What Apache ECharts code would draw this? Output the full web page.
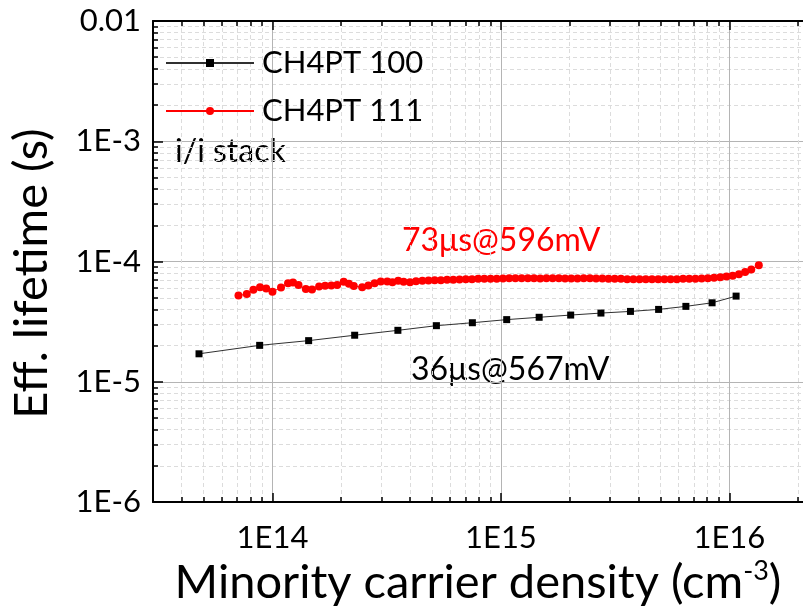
<!DOCTYPE html>
<html>
<head>
<meta charset="utf-8">
<script src="https://cdn.jsdelivr.net/npm/echarts@6/dist/echarts.min.js"></script>
<style>
  html, body { margin: 0; padding: 0; background: #fff; }
  #chart { width: 803px; height: 611px; }
</style>
</head>
<body>
<div id="chart"></div>
<script>
// CH4PT 100 (black squares)
var density100 = [4.77e13, 8.79e13, 1.44e14, 2.29e14, 3.54e14, 5.22e14, 7.50e14, 1.06e15,
  1.47e15, 2.02e15, 2.74e15, 3.69e15, 4.90e15, 6.45e15, 8.40e15, 1.07e16];
var lifetime100 = [1.71e-5, 2.01e-5, 2.20e-5, 2.44e-5, 2.68e-5, 2.93e-5, 3.10e-5, 3.29e-5,
  3.44e-5, 3.59e-5, 3.73e-5, 3.85e-5, 4.00e-5, 4.24e-5, 4.54e-5, 5.16e-5];

// CH4PT 111 (red circles)
var density111 = [7.10e13, 7.72e13, 8.25e13, 8.82e13, 9.39e13, 1.00e14, 1.09e14, 1.17e14, 1.23e14, 1.30e14,
  1.40e14, 1.49e14, 1.60e14, 1.70e14, 1.81e14, 1.92e14, 2.05e14, 2.16e14, 2.27e14, 2.47e14,
  2.63e14, 2.80e14, 2.98e14, 3.18e14, 3.35e14, 3.55e14, 3.75e14, 4.00e14, 4.25e14, 4.53e14,
  4.82e14, 5.13e14, 5.46e14, 5.81e14, 6.19e14, 6.59e14, 7.02e14, 7.47e14, 7.95e14, 8.46e14,
  9.01e14, 9.59e14, 1.021e15, 1.087e15, 1.157e15, 1.232e15, 1.312e15, 1.396e15, 1.486e15, 1.582e15,
  1.684e15, 1.793e15, 1.909e15, 2.032e15, 2.163e15, 2.303e15, 2.452e15, 2.610e15, 2.779e15, 2.958e15,
  3.149e15, 3.353e15, 3.569e15, 3.800e15, 4.045e15, 4.306e15, 4.584e15, 4.880e15, 5.195e15, 5.531e15,
  5.888e15, 6.268e15, 6.673e15, 7.103e15, 7.562e15, 8.050e15, 8.570e15, 9.123e15, 9.712e15, 1.034e16,
  1.101e16, 1.172e16, 1.247e16, 1.345e16];
var lifetime111 = [5.22e-5, 5.36e-5, 5.82e-5, 6.12e-5, 5.97e-5, 5.61e-5, 6.09e-5, 6.61e-5, 6.70e-5, 6.37e-5,
  5.90e-5, 5.86e-5, 6.21e-5, 6.28e-5, 6.32e-5, 6.37e-5, 6.78e-5, 6.53e-5, 6.25e-5, 6.12e-5,
  6.32e-5, 6.61e-5, 6.83e-5, 6.83e-5, 6.74e-5, 6.92e-5, 6.78e-5, 6.74e-5, 6.87e-5, 6.92e-5,
  6.96e-5, 7.00e-5, 7.00e-5, 7.05e-5, 7.05e-5, 7.09e-5, 7.14e-5, 7.14e-5, 7.18e-5, 7.18e-5,
  7.18e-5, 7.18e-5, 7.23e-5, 7.27e-5, 7.27e-5, 7.27e-5, 7.27e-5, 7.27e-5, 7.23e-5, 7.27e-5,
  7.27e-5, 7.27e-5, 7.23e-5, 7.23e-5, 7.23e-5, 7.27e-5, 7.27e-5, 7.23e-5, 7.23e-5, 7.18e-5,
  7.18e-5, 7.18e-5, 7.14e-5, 7.14e-5, 7.14e-5, 7.14e-5, 7.14e-5, 7.14e-5, 7.14e-5, 7.14e-5,
  7.14e-5, 7.18e-5, 7.18e-5, 7.18e-5, 7.23e-5, 7.27e-5, 7.32e-5, 7.41e-5, 7.51e-5, 7.62e-5,
  7.85e-5, 8.20e-5, 8.60e-5, 9.30e-5];

// axis ticks
var xMajor = [1e14, 1e15, 1e16];
var yMajor = [1e-6, 1e-5, 1e-4, 1e-3, 1e-2];
var xMinor = [4e13, 5e13, 6e13, 7e13, 8e13, 9e13,
  2e14, 3e14, 4e14, 5e14, 6e14, 7e14, 8e14, 9e14,
  2e15, 3e15, 4e15, 5e15, 6e15, 7e15, 8e15, 9e15, 2e16];
var yMinor = [2e-6, 3e-6, 4e-6, 5e-6, 6e-6, 7e-6, 8e-6, 9e-6,
  2e-5, 3e-5, 4e-5, 5e-5, 6e-5, 7e-5, 8e-5, 9e-5,
  2e-4, 3e-4, 4e-4, 5e-4, 6e-4, 7e-4, 8e-4, 9e-4,
  2e-3, 3e-3, 4e-3, 5e-3, 6e-3, 7e-3, 8e-3, 9e-3];

var FONT = 'Lato';
var X_MIN = 3e13, X_MAX = 2.1e16, Y_MIN = 1e-6, Y_MAX = 1e-2;

function pairs(xs, ys) {
  return xs.map(function (x, i) { return [x, ys[i]]; });
}
function expLabel(v) {
  if (Math.abs(v - 0.01) < 1e-9) return '0.01';
  return '1E' + Math.round(Math.log10(v));
}

function xAx(pos, major, show) {
  return {
    type: 'log', logBase: 10, min: X_MIN, max: X_MAX, position: pos,
    axisLine: { show: show, lineStyle: { color: '#000', width: 2 } },
    axisTick: { show: true, inside: true, length: major ? 9 : 5,
      customValues: major ? xMajor : xMinor, lineStyle: { color: '#000', width: 1.5 } },
    axisLabel: { show: false },
    splitLine: { show: pos === 'bottom',
      lineStyle: major ? { color: '#b4b4b4', width: 1 } : { color: '#dcdcdc', width: 1, type: [4, 3] } },
    minorTick: { show: false }, minorSplitLine: { show: false }
  };
}
function yAx(major) {
  return {
    type: 'log', logBase: 10, min: Y_MIN, max: Y_MAX, position: 'left',
    axisLine: { show: major, lineStyle: { color: '#000', width: 2 } },
    axisTick: { show: true, inside: true, length: major ? 10 : 5,
      customValues: major ? yMajor : yMinor, lineStyle: { color: '#000', width: 1.5 } },
    axisLabel: { show: false },
    splitLine: { show: true,
      lineStyle: major ? { color: '#b4b4b4', width: 1 } : { color: '#dcdcdc', width: 1, type: [4, 3] } }
  };
}

var xAxes = [xAx('bottom', true, true), xAx('bottom', false, false), xAx('top', true, true), xAx('top', false, false)];
xAxes[0].axisLabel = {
  show: true, customValues: xMajor, formatter: expLabel,
  fontFamily: FONT, fontSize: 31, color: '#000', margin: 20
};
xAxes[0].name = '{t|Minority carrier density (cm}{s|-3}{t|)}';
xAxes[0].nameLocation = 'middle';
xAxes[0].nameGap = 54;
xAxes[0].nameTextStyle = {
  rich: {
    t: { fontFamily: FONT, fontSize: 47, color: '#000' },
    s: { fontFamily: FONT, fontSize: 27, color: '#000', verticalAlign: 'top', padding: [0, 0, 22, 0] }
  }
};

var yAxes = [yAx(true), yAx(false)];
yAxes[0].axisLabel = {
  show: true, customValues: yMajor, formatter: expLabel,
  fontFamily: FONT, fontSize: 31, color: '#000', margin: 12
};
yAxes[0].name = 'Eff. lifetime (s)';
yAxes[0].nameLocation = 'middle';
yAxes[0].nameGap = 98;
yAxes[0].nameTextStyle = { fontFamily: FONT, fontSize: 47, color: '#000', padding: [0, 24, 0, 0] };

var chart = echarts.init(document.getElementById('chart'));
chart.setOption({
  backgroundColor: '#fff',
  animation: false,
  grid: { left: 152, right: 0, top: 21, bottom: 102, containLabel: false },
  legend: {
    orient: 'vertical', left: 160, top: 38, itemWidth: 88, itemHeight: 10, itemGap: 8,
    textStyle: { fontFamily: FONT, fontSize: 31, color: '#000', lineHeight: 40, padding: [0, 0, 0, 3] },
    data: ['CH4PT 100', 'CH4PT 111']
  },
  xAxis: xAxes,
  yAxis: yAxes,
  graphic: [
    { type: 'text', left: 175, top: 136, style: { text: 'i/i stack', font: '32px ' + FONT, fill: '#000' } },
    { type: 'text', left: 402, top: 225, style: { text: '73μs@596mV', font: '32px ' + FONT, fill: '#ff0000' } },
    { type: 'text', left: 411, top: 354, style: { text: '36μs@567mV', font: '32px ' + FONT, fill: '#000' } }
  ],
  series: [
    {
      name: 'CH4PT 100', type: 'line', xAxisIndex: 0, yAxisIndex: 0,
      data: pairs(density100, lifetime100),
      symbol: 'rect', symbolSize: 7,
      itemStyle: { color: '#000' },
      lineStyle: { color: '#303030', width: 1 }
    },
    {
      name: 'CH4PT 111', type: 'line', xAxisIndex: 0, yAxisIndex: 0,
      data: pairs(density111, lifetime111),
      symbol: 'circle', symbolSize: 8,
      itemStyle: { color: '#ff0000' },
      lineStyle: { color: '#ff0000', width: 1 }
    }
  ]
});
</script>
</body>
</html>
